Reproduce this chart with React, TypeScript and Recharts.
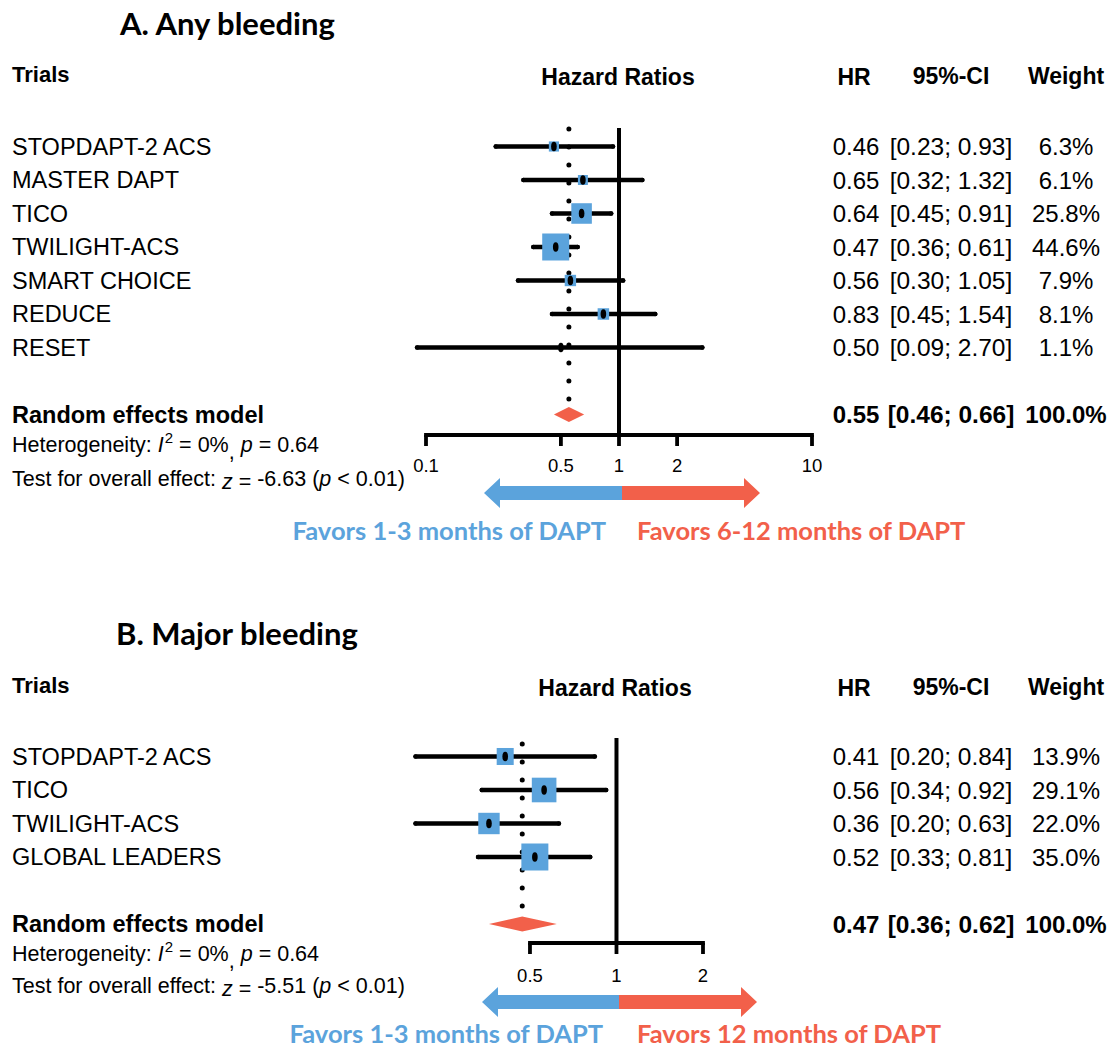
import React from 'react';
import { ComposedChart, XAxis, YAxis, Scatter, ErrorBar, ReferenceLine, Area } from 'recharts';

const FONT = '"Liberation Sans", Arial, Helvetica, sans-serif';
const TITLE_FONT = 'Lato, "Open Sans", sans-serif';
const BLUE = '#5BA3DC';
const RED = '#F2604A';

// ---------- Panel A: Any bleeding ----------
const trialsA = ['STOPDAPT-2 ACS', 'MASTER DAPT', 'TICO', 'TWILIGHT-ACS', 'SMART CHOICE', 'REDUCE', 'RESET'];
const hrA = [0.46, 0.65, 0.64, 0.47, 0.56, 0.83, 0.5];
const loA = [0.23, 0.32, 0.45, 0.36, 0.3, 0.45, 0.09];
const hiA = [0.93, 1.32, 0.91, 0.61, 1.05, 1.54, 2.7];
const weightA = [6.3, 6.1, 25.8, 44.6, 7.9, 8.1, 1.1];
const pooledA = [0.55, 0.46, 0.66]; // HR, lower, upper
const ticksA = [0.1, 0.5, 1, 2, 10];
const hetA = ['0%', '0.64'];
const testA = ['-6.63', '< 0.01'];

// ---------- Panel B: Major bleeding ----------
const trialsB = ['STOPDAPT-2 ACS', 'TICO', 'TWILIGHT-ACS', 'GLOBAL LEADERS'];
const hrB = [0.41, 0.56, 0.36, 0.52];
const loB = [0.2, 0.34, 0.2, 0.33];
const hiB = [0.84, 0.92, 0.63, 0.81];
const weightB = [13.9, 29.1, 22.0, 35.0];
const pooledB = [0.47, 0.36, 0.62];
const ticksB = [0.5, 1, 2];
const hetB = ['0%', '0.64'];
const testB = ['-5.51', '< 0.01'];

type Row = {
  x: number; y: number; name: string; hr: number; lo: number; hi: number; w: number;
  err: [number, number]; bold?: boolean;
};

function buildRows(names: string[], hr: number[], lo: number[], hi: number[], w: number[]): Row[] {
  return names.map((name, i) => ({
    x: hr[i], y: i, name, hr: hr[i], lo: lo[i], hi: hi[i], w: w[i], err: [hr[i] - lo[i], hi[i] - hr[i]],
  }));
}

function buildPooled(p: number[], row: number): Row {
  return { x: p[0], y: row, name: 'Random effects model', hr: p[0], lo: p[1], hi: p[2], w: 100, err: [p[0] - p[1], p[2] - p[0]], bold: true };
}

const COLS = { hr: 856, ci: 951, w: 1066 };

const RowText = (props: any) => {
  const { cy, payload } = props;
  if (cy == null || !payload) return null;
  const fw = payload.bold ? 700 : 400;
  return (
    <g fontFamily={FONT} fill="#000" fontWeight={fw}>
      <text x={12} y={cy} dy="0.36em" fontSize={23.5}>{payload.name}</text>
      <text x={COLS.hr} y={cy} dy="0.36em" fontSize={24} textAnchor="middle">{payload.hr.toFixed(2)}</text>
      <text x={COLS.ci} y={cy} dy="0.36em" fontSize={24.5} textAnchor="middle">{`[${payload.lo.toFixed(2)}; ${payload.hi.toFixed(2)}]`}</text>
      <text x={COLS.w} y={cy} dy="0.36em" fontSize={24} textAnchor="middle">{`${payload.w.toFixed(1)}%`}</text>
    </g>
  );
};

const makeBox = (wMax: number, maxSide: number) => (props: any) => {
  const { cx, cy, payload } = props;
  if (cx == null || cy == null) return null;
  const s = maxSide * Math.sqrt(payload.w / wMax);
  return <rect x={cx - s / 2} y={cy - s / 2} width={s} height={s} fill={BLUE} />;
};

const CenterMark = (props: any) => {
  const { cx, cy } = props;
  if (cx == null || cy == null) return null;
  return <ellipse cx={cx} cy={cy} rx={2.8} ry={4.8} fill="#000" />;
};

type PanelProps = {
  rows: Row[];
  pooled: Row;
  ticks: number[];
  domain: [number, number];
  axisRange: [number, number];
  yDomain: [number, number];
  height: number;
  margin: { top: number; right: number; bottom: number; left: number };
  tickMargin: number;
  dotRange: [number, number];
};

function ForestPanel(p: PanelProps) {
  const wMax = Math.max(...p.rows.map((r) => r.w));
  const Box = makeBox(wMax, 27);
  const dh = 0.224;
  const diamond = [
    { x: p.pooled.lo, r: [p.pooled.y, p.pooled.y] },
    { x: p.pooled.hr, r: [p.pooled.y - dh, p.pooled.y + dh] },
    { x: p.pooled.hi, r: [p.pooled.y, p.pooled.y] },
  ];
  const yAxisVal = p.yDomain[1];
  return (
    <ComposedChart width={1112} height={p.height} margin={p.margin}>
      <XAxis
        type="number"
        dataKey="x"
        scale="log"
        domain={p.domain}
        ticks={p.ticks}
        interval={0}
        axisLine={false}
        tickLine={{ stroke: '#000', strokeWidth: 3.8 }}
        tickSize={11}
        tickMargin={p.tickMargin}
        tick={{ fill: '#000', fontSize: 18.5, fontFamily: FONT }}
        tickFormatter={(v: number) => String(v)}
        height={30}
      />
      <YAxis type="number" dataKey="y" domain={p.yDomain} reversed hide width={0} />
      <ReferenceLine
        segment={[{ x: p.axisRange[0], y: yAxisVal }, { x: p.axisRange[1], y: yAxisVal }]}
        stroke="#000"
        strokeWidth={3.8}
        strokeLinecap="square"
        ifOverflow="visible"
      />
      <ReferenceLine x={1} stroke="#000" strokeWidth={4} ifOverflow="visible" />
      <ReferenceLine
        segment={[{ x: p.pooled.hr, y: p.dotRange[0] }, { x: p.pooled.hr, y: p.dotRange[1] }]}
        stroke="#000"
        strokeWidth={5}
        strokeDasharray="0 18"
        strokeLinecap="round"
        ifOverflow="visible"
      />
      <Area
        data={diamond}
        dataKey="r"
        type="linear"
        stroke="none"
        fill={RED}
        fillOpacity={1}
        dot={false}
        activeDot={false}
        isAnimationActive={false}
      />
      <Scatter data={p.rows} shape={Box} isAnimationActive={false} />
      <Scatter data={p.rows} shape={CenterMark} isAnimationActive={false}>
        <ErrorBar dataKey="err" direction="x" width={0} stroke="#000" strokeWidth={4.6} strokeLinecap="round" isAnimationActive={false} />
      </Scatter>
      <Scatter data={[...p.rows, p.pooled]} shape={RowText} isAnimationActive={false} />
    </ComposedChart>
  );
}

const abs = (left: number, top: number, extra: React.CSSProperties = {}): React.CSSProperties => ({
  position: 'absolute', left, top, whiteSpace: 'nowrap', lineHeight: 1, ...extra,
});

function Headers({ y, hrX }: { y: number; hrX: number }) {
  const c: React.CSSProperties = { transform: 'translate(-50%, -50%)', fontWeight: 700, fontSize: 23 };
  return (
    <>
      <div style={abs(12, y, { transform: 'translateY(-50%)', fontWeight: 700, fontSize: 22 })}>Trials</div>
      <div style={abs(hrX, y + 2, c)}>Hazard Ratios</div>
      <div style={abs(854, y + 2, c)}>HR</div>
      <div style={abs(951, y + 1, c)}>95%-CI</div>
      <div style={abs(1066, y + 1, c)}>Weight</div>
    </>
  );
}

function Stats({ y1, y2, het, test }: { y1: number; y2: number; het: string[]; test: string[] }) {
  const s: React.CSSProperties = { transform: 'translateY(-50%)', fontSize: 21.5 };
  return (
    <>
      <div style={abs(12, y1, s)}>
        Heterogeneity: <i>I</i>
        <span style={{ fontSize: 15, position: 'relative', top: -9, marginLeft: 1 }}>2</span> = {het[0]}
        <span style={{ position: 'relative', top: 7 }}>,</span> <i>p</i> = {het[1]}
      </div>
      <div style={abs(12, y2, s)}>
        Test for overall effect: <i style={{ position: 'relative', top: 3 }}>z</i>
        <span style={{ position: 'relative', top: 3 }}> =</span> {test[0]} (<i>p</i> {test[1]})
      </div>
    </>
  );
}

function arrowPolys(left: number, mid: number, right: number, cy: number) {
  const hl = 16, hh = 15, sh = 7;
  const blue = [[left, cy], [left + hl, cy - hh], [left + hl, cy - sh], [mid, cy - sh], [mid, cy + sh], [left + hl, cy + sh], [left + hl, cy + hh]];
  const red = [[right, cy], [right - hl, cy - hh], [right - hl, cy - sh], [mid, cy - sh], [mid, cy + sh], [right - hl, cy + sh], [right - hl, cy + hh]];
  const f = (pts: number[][]) => pts.map((q) => q.join(',')).join(' ');
  return (
    <>
      <polygon points={f(blue)} fill={BLUE} />
      <polygon points={f(red)} fill={RED} />
    </>
  );
}

export default function App() {
  const rowsA = buildRows(trialsA, hrA, loA, hiA, weightA);
  const rowsB = buildRows(trialsB, hrB, loB, hiB, weightB);
  const poolA = buildPooled(pooledA, 8);
  const poolB = buildPooled(pooledB, 5);
  const favStyle: React.CSSProperties = { transform: 'translateY(-50%)', fontFamily: TITLE_FONT, fontWeight: 700, fontSize: 25.5 };
  const titleStyle: React.CSSProperties = { transform: 'translateY(-50%)', fontFamily: TITLE_FONT, fontWeight: 700, fontSize: 31 };
  return (
    <div style={{ position: 'absolute', left: 0, top: 0, width: 1112, height: 1049, background: '#fff', fontFamily: FONT, color: '#000', overflow: 'hidden' }}>
      <div style={abs(0, 0)}>
        <ForestPanel
          rows={rowsA}
          pooled={poolA}
          ticks={ticksA}
          domain={[0.05, 20]}
          axisRange={[0.1, 10]}
          yDomain={[-0.552, 8.612]}
          height={560}
          margin={{ top: 128, right: 241.9, bottom: 95, left: 367.9 }}
          tickMargin={13}
          dotRange={[-0.52, 7.54]}
        />
      </div>
      <div style={abs(0, 560)}>
        <ForestPanel
          rows={rowsB}
          pooled={poolB}
          ticks={ticksB}
          domain={[0.15, 3]}
          axisRange={[0.5, 2]}
          yDomain={[-0.552, 5.567]}
          height={489}
          margin={{ top: 178, right: 358.4, bottom: 76, left: 379.7 }}
          tickMargin={15}
          dotRange={[-0.37, 4.5]}
        />
      </div>

      <div style={abs(120, 23, titleStyle)}>A. Any bleeding</div>
      <div style={abs(116, 633, titleStyle)}>B. Major bleeding</div>

      <Headers y={75} hrX={618} />
      <Headers y={686} hrX={615} />

      <Stats y1={446} y2={480} het={hetA} test={testA} />
      <Stats y1={955} y2={987} het={hetB} test={testB} />

      <svg width={1112} height={1049} style={{ position: 'absolute', left: 0, top: 0, pointerEvents: 'none' }}>
        {arrowPolys(484, 622, 760, 493)}
        {arrowPolys(482, 619, 757, 1002)}
      </svg>

      <div style={abs(606, 531, { ...favStyle, transform: 'translate(-100%, -50%)', color: BLUE })}>Favors 1-3 months of DAPT</div>
      <div style={abs(637, 531, { ...favStyle, color: RED })}>Favors 6-12 months of DAPT</div>
      <div style={abs(603, 1034, { ...favStyle, transform: 'translate(-100%, -50%)', color: BLUE })}>Favors 1-3 months of DAPT</div>
      <div style={abs(637, 1034, { ...favStyle, color: RED })}>Favors 12 months of DAPT</div>
    </div>
  );
}
